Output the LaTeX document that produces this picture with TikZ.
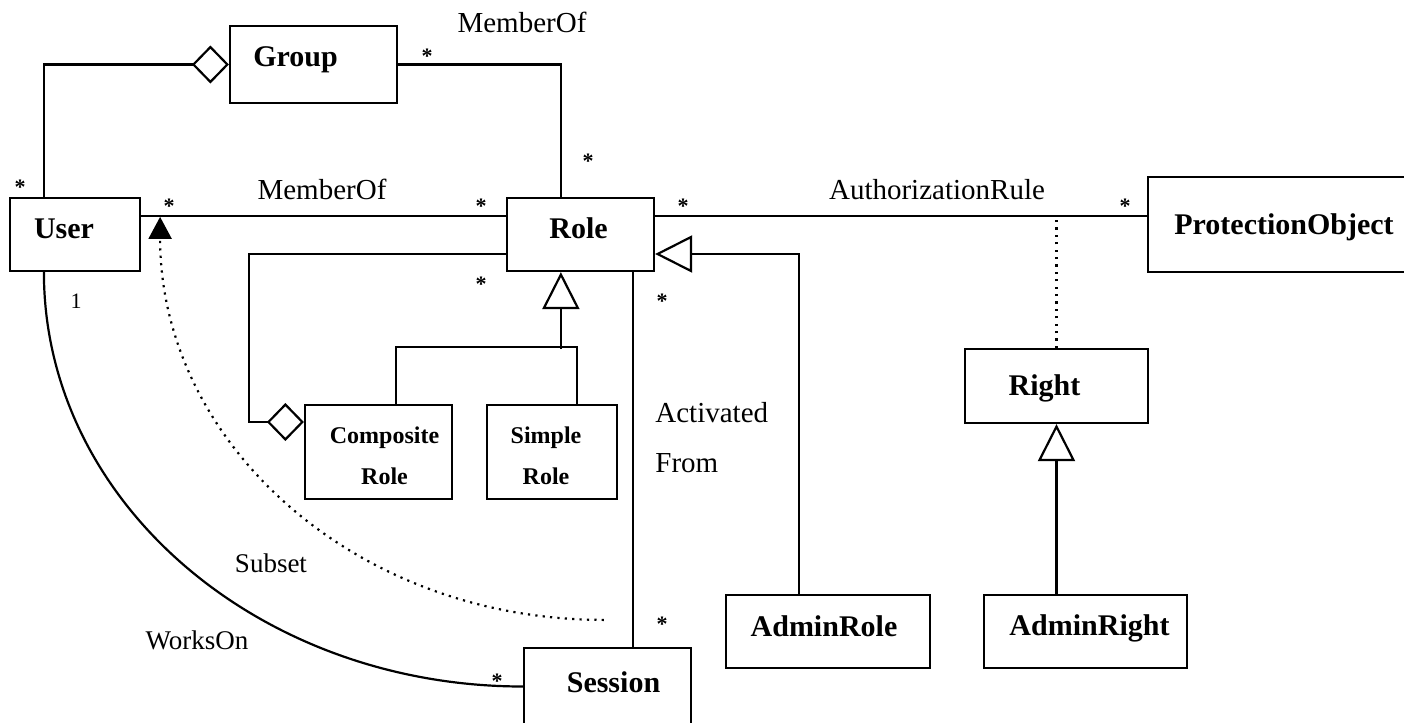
\documentclass[tikz,border=0pt]{standalone}
\usepackage{fontspec}
\setmainfont{Liberation Serif}
\usetikzlibrary{arrows.meta,calc}
\tikzset{
  box/.style={draw, line width=1.1pt, inner sep=0pt},
  ctext/.style={font=\fontsize{15}{18}\selectfont\bfseries, inner sep=0pt},
  ctexttwo/.style={font=\fontsize{12}{20.5}\selectfont\bfseries, align=center, inner sep=0pt},
  lbl/.style={font=\fontsize{14.5}{17}\selectfont, inner sep=0pt},
  lblsmall/.style={font=\fontsize{13.5}{16}\selectfont, inner sep=0pt},
  mult/.style={font=\fontsize{11}{11}\selectfont\bfseries, inner sep=0pt},
  conn/.style={line width=1.1pt},
  agg/.style={conn, -{Diamond[open, fill=white, length=18.5pt, width=19pt]}},
  gen/.style={conn, -{Triangle[open, fill=white, length=18.5pt, width=18.5pt]}},
  dotline/.style={line width=1.1pt, dash pattern=on 1.1pt off 2.6pt},
  subsetline/.style={dotline, -{Triangle[length=11pt, width=11.5pt]}},
}
\begin{document}
\begin{tikzpicture}[x=0.5pt,y=-0.5pt]
\useasboundingbox (0,0) rectangle (1404,723);
\clip (0,0) rectangle (1404,723);

% classes
\node[box, minimum width=65pt, minimum height=36.5pt,
  label={[ctext, xshift=-5.5pt, yshift=3pt]center:User}] (User) at (75,234.5) {};
\node[box, minimum width=83.5pt, minimum height=38.5pt,
  label={[ctext, xshift=-9pt, yshift=2.5pt]center:Group}] (Group) at (313.5,64.5) {};
\node[box, minimum width=73.5pt, minimum height=36.5pt,
  label={[ctext, xshift=-1pt, yshift=3pt]center:Role}] (Role) at (580.5,234.5) {};
\node[box, minimum width=136pt, minimum height=47.5pt,
  label={[ctext, yshift=-1.5pt]center:ProtectionObject}] (PO) at (1284,224.5) {};
\node[box, minimum width=91.5pt, minimum height=37pt,
  label={[ctext, xshift=-6pt, yshift=-1pt]center:Right}] (Right) at (1056.5,386) {};
\node[box, minimum width=101.5pt, minimum height=36.5pt,
  label={[ctext, xshift=2pt, yshift=1.5pt]center:AdminRight}] (AdminRight) at (1085.5,631.5) {};
\node[box, minimum width=102pt, minimum height=36.5pt,
  label={[ctext, xshift=-2pt, yshift=2.5pt]center:AdminRole}] (AdminRole) at (828,631.5) {};
\node[box, minimum width=83.5pt, minimum height=38.5pt,
  label={[ctext, xshift=3pt, yshift=2pt]center:Session}] (Session) at (607.5,686.5) {};
\node[box, minimum width=73.5pt, minimum height=47pt,
  label={[ctexttwo, xshift=3pt, yshift=-2pt]center:Composite\\Role}] (Comp) at (378.5,452) {};
\node[box, minimum width=65pt, minimum height=47pt,
  label={[ctexttwo, xshift=-3pt, yshift=-2pt]center:Simple\\Role}] (Simple) at (552,452) {};

% connectors
\draw[agg] ($(User.north west)+(35,0)$) |- (Group.west);
\draw[conn] (Group.east) -| ($(Role.north west)+(55,0)$);
\draw[conn] ($(User.east)+(0,-18.5)$) -- ($(Role.west)+(0,-18.5)$);
\coordinate (ar) at ($(Role.east)+(0,-18.5)$);
\draw[conn] (ar) -- (ar -| PO.west);
\draw[dotline] (Right.north) -- (Right.north |- ar);
\draw[agg] ($(Role.west)+(0,19.5)$) -- ++(-257,0) |- ($(Comp.west)+(0,-30)$);
\coordinate (gj) at ($(Role.south west)+(55,77)$);
\draw[conn] ($(Comp.north west)+(92,0)$) |- ($(Simple.north west)+(91,-57)$) -- ($(Simple.north west)+(91,0)$);
\draw[gen] (gj) -- ($(Role.south west)+(55,0)$);
\draw[gen] ($(AdminRole.north west)+(74,0)$) |- ($(Role.east)+(0,19.5)$);
\draw[gen] (Right.south |- AdminRight.north) -- (Right.south);
\coordinate (rs) at ($(Role.south west)+(127,0)$);
\draw[conn] (rs) -- (rs |- Session.north);
\draw[conn] ($(User.south west)+(35,0)$) .. controls +(0,230) and +(-264,0) .. (Session.west);
\coordinate (subA) at ($(Session.north west)+(81,-27)$);
\coordinate (subB) at ($(User.north east)+(19,20)$);
\draw[subsetline] (subA) .. controls +(-250,0) and +(0,225) .. (subB);

% labels
\node[lbl] (mo1) at (522,22) {MemberOf};
\node[lbl] (mo2) at (322,189) {MemberOf};
\node[lbl] (auth) at (937,190) {AuthorizationRule};
\node[lbl, anchor=west] (act1) at (655,413) {Activated};
\node[lbl, anchor=west] (act2) at (655,463) {From};
\node[lblsmall] (subs) at (271,563) {Subset};
\node[lblsmall] (works) at (197,640) {WorksOn};
\node[font=\fontsize{11}{11}\selectfont, inner sep=0pt] (one) at (76,301) {1};

% multiplicities
\foreach \p/\n in {{(20,187)}/m1, {(169,206)}/m2, {(427,56)}/m3, {(588,161)}/m4, {(481,206)}/m5, {(683,206)}/m6, {(481,284)}/m7, {(662,301)}/m8, {(662,624)}/m9, {(497,681)}/m10, {(1125,206)}/m11}
  \node[mult] (\n) at \p {*};
\end{tikzpicture}
\end{document}
